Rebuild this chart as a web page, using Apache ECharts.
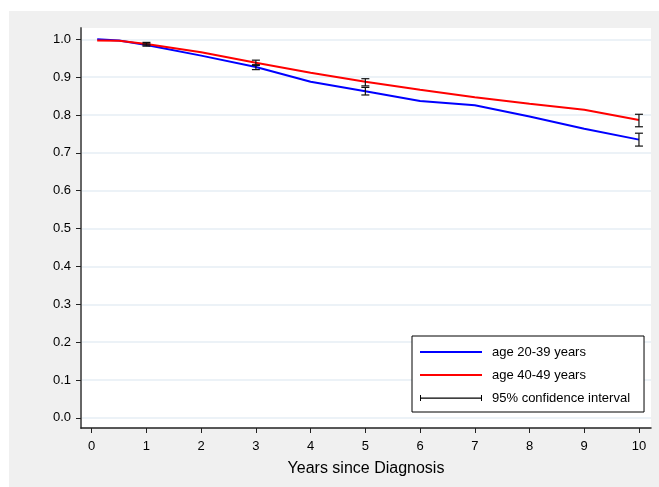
<!DOCTYPE html>
<html>
<head>
<meta charset="utf-8">
<script src="https://cdn.jsdelivr.net/npm/echarts@6/dist/echarts.min.js"></script>
<style>
  html, body { margin: 0; padding: 0; background: #fff; }
  #chart { position: absolute; left: 9px; top: 11px; width: 650px; height: 476px; background: #f0f0f0; }
</style>
</head>
<body>
<div id="chart"></div>
<script>
// survival estimates
const years = [0.1, 0.5, 1, 2, 3, 4, 5, 6, 7, 8, 9, 10]
const young = [1.000, 0.997, 0.985, 0.957, 0.927, 0.888, 0.863, 0.837, 0.826, 0.796, 0.764, 0.735]
const older = [0.997, 0.996, 0.988, 0.966, 0.938, 0.912, 0.888, 0.867, 0.847, 0.830, 0.814, 0.787]

// 95% confidence intervals
const ciYears = [1, 3, 5, 10]
const youngLow = [0.982, 0.920, 0.853, 0.718]
const youngHigh = [0.988, 0.933, 0.873, 0.752]
const olderLow = [0.985, 0.931, 0.877, 0.769]
const olderHigh = [0.992, 0.945, 0.896, 0.802]

const xTicks = [0, 1, 2, 3, 4, 5, 6, 7, 8, 9, 10]
const yTicks = [0, 0.1, 0.2, 0.3, 0.4, 0.5, 0.6, 0.7, 0.8, 0.9, 1.0]

const chart = echarts.init(document.getElementById('chart'))

const ciData = []
ciYears.forEach((y, i) => {
    ciData.push([y, youngLow[i], youngHigh[i]])
    ciData.push([y, olderLow[i], olderHigh[i]])
})

function renderBar(params, api) {
    const lo = api.coord([api.value(0), api.value(1)])
    const hi = api.coord([api.value(0), api.value(2)])
    const w = 4
    const style = { stroke: '#111', lineWidth: 1.2 }
    return {
        type: 'group',
        children: [
            { type: 'line', shape: { x1: lo[0], y1: lo[1], x2: hi[0], y2: hi[1] }, style },
            { type: 'line', shape: { x1: lo[0] - w, y1: lo[1], x2: lo[0] + w, y2: lo[1] }, style },
            { type: 'line', shape: { x1: hi[0] - w, y1: hi[1], x2: hi[0] + w, y2: hi[1] }, style }
        ]
    }
}

const font = 'Liberation Sans, Arial, sans-serif'
const lineIcon = 'path://M0,0M0,6h62v2h-62zM62,14'

const option = {
    animation: false,
    textStyle: { fontFamily: font },
    grid: {
        left: 72, top: 17, right: 8, bottom: 59,
        show: true, backgroundColor: '#fff', borderWidth: 0
    },
    legend: {
        orient: 'vertical',
        left: 403, top: 325,
        padding: [9, 14, 7, 8],
        itemWidth: 62, itemHeight: 14, itemGap: 9,
        backgroundColor: '#fff',
        borderColor: '#000', borderWidth: 1,
        textStyle: { fontSize: 13, color: '#000', fontFamily: font, padding: [0, 0, 0, 5] },
        data: [
            { name: 'age 20-39 years', icon: lineIcon },
            { name: 'age 40-49 years', icon: lineIcon },
            { name: '95% confidence interval',
              icon: 'path://M0,0M0,4h1v6h-1zM0,6.5h62v1.2h-62zM61,4h1v6h-1zM62,14',
              itemStyle: { color: '#000' } }
        ]
    },
    xAxis: {
        type: 'value',
        min: -0.196, max: 10.22,
        name: 'Years since Diagnosis',
        nameLocation: 'middle', nameGap: 33,
        nameTextStyle: { fontSize: 16, color: '#000', fontFamily: font },
        axisLine: { onZero: false, lineStyle: { color: '#222', width: 1.5 } },
        axisTick: { customValues: xTicks, length: 5, lineStyle: { color: '#222' } },
        axisLabel: { customValues: xTicks, fontSize: 13, color: '#000', margin: 12 },
        splitLine: { show: false }
    },
    yAxis: {
        type: 'value',
        min: -0.027, max: 1.03,
        axisLine: { show: true, onZero: false, lineStyle: { color: '#666', width: 2 } },
        axisTick: { show: true, customValues: yTicks, length: 5, lineStyle: { color: '#222' } },
        axisLabel: {
            customValues: yTicks, fontSize: 13, color: '#000', margin: 10,
            formatter: v => v.toFixed(1)
        },
        splitLine: { show: true, lineStyle: { color: '#e6eef4', width: 1.5 } }
    },
    series: [
        {
            name: 'age 20-39 years', type: 'line', symbol: 'none',
            lineStyle: { color: '#0000ff', width: 2 }, itemStyle: { color: '#0000ff' },
            data: years.map((x, i) => [x, young[i]])
        },
        {
            name: 'age 40-49 years', type: 'line', symbol: 'none',
            lineStyle: { color: '#ff0000', width: 2 }, itemStyle: { color: '#ff0000' },
            data: years.map((x, i) => [x, older[i]])
        },
        {
            name: '95% confidence interval', type: 'custom',
            itemStyle: { color: '#000' },
            renderItem: renderBar,
            encode: { x: 0, y: [1, 2] },
            data: ciData,
            z: 5
        }
    ]
}

chart.setOption(option)
</script>
</body>
</html>
